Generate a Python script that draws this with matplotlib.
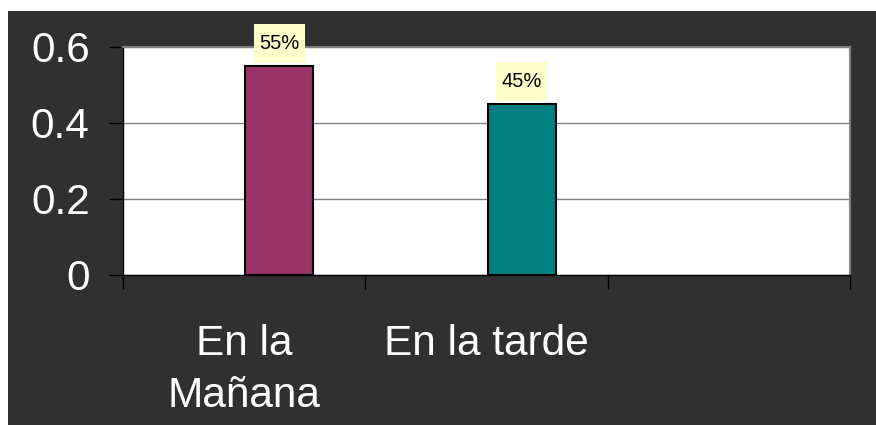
import numpy as np
import matplotlib
matplotlib.use("Agg")
import matplotlib.pyplot as plt
from matplotlib.patches import Rectangle
from matplotlib.path import Path

plt.rcParams["font.family"] = ["Liberation Sans", "DejaVu Sans"]

# data
categories  = ["En la\nMañana", "En la tarde", ""]
values      = [0.55, 0.45]
pct_labels  = ["55%", "45%"]
bar_colors  = ["#993366", "#008080"]
y_ticks     = [0, 0.2, 0.4, 0.6]
y_ticklabel = ["0", "0.2", "0.4", "0.6"]

BG_DARK = "#303030"
GRID    = "#808080"


def tall_box(x0, y0, width, height, mutation_size):
    """Label box with more vertical than horizontal padding."""
    px, py = 0.28 * mutation_size, 0.5 * mutation_size
    x0, y0 = x0 - px, y0 - py
    x1, y1 = x0 + width + 2 * px, y0 + height + 2 * py
    return Path([(x0, y0), (x1, y0), (x1, y1), (x0, y1), (x0, y0)], closed=True)


fig = plt.figure(figsize=(8.76, 4.25), dpi=100, facecolor="white")

# dark chart area (white margin on the left and top)
fig.patches.append(Rectangle((8 / 876, 0), 1 - 8 / 876, 1 - 11 / 425,
                             transform=fig.transFigure, facecolor=BG_DARK,
                             edgecolor="none", zorder=-10))

ax = fig.add_axes([123 / 876, 1 - 275 / 425, 727 / 876, 228 / 425])
ax.set_facecolor("white")

x = np.arange(len(values)) + 0.145
bars = ax.bar(x, values, width=0.28, color=bar_colors,
              edgecolor="black", linewidth=1.5, zorder=3)

for b, lab in zip(bars, pct_labels):
    ax.annotate(lab, (b.get_x() + b.get_width() / 2, b.get_height()),
                xytext=(0, 16), textcoords="offset points",
                ha="center", va="center", fontsize=14.5, color="black",
                bbox=dict(boxstyle=tall_box, facecolor="#FFFFCC",
                          edgecolor="none"), zorder=4, annotation_clip=False)

ax.set_xlim(-0.5, len(categories) - 0.5)
ax.set_ylim(0, 0.6)

ax.set_yticks(y_ticks)
ax.set_yticklabels(y_ticklabel)
ax.yaxis.grid(True, color=GRID, linewidth=1)
ax.set_axisbelow(True)

# ticks at slot boundaries, labels at slot centres
ax.set_xticks(np.arange(len(categories) + 1) - 0.5)
ax.set_xticklabels([])
ax.set_xticks(np.arange(len(categories)), minor=True)
ax.set_xticklabels(categories, minor=True, linespacing=1.4)

ax.tick_params(axis="x", which="major", length=10, width=1, color="black")
ax.tick_params(axis="x", which="minor", length=0, pad=35,
               labelsize=30.5, labelcolor="white")
ax.tick_params(axis="y", length=10, width=1, color="black", pad=14,
               labelsize=30.5, labelcolor="white")

for side in ["left", "bottom"]:
    ax.spines[side].set_color("black")
    ax.spines[side].set_linewidth(1)
for side in ["top", "right"]:
    ax.spines[side].set_color(GRID)
    ax.spines[side].set_linewidth(1.5)

fig.savefig("out.png", dpi=100, facecolor=fig.get_facecolor())
